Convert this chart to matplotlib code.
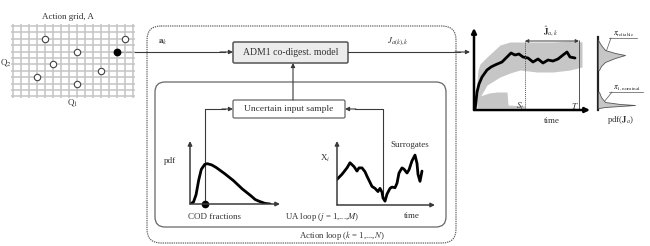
import numpy as np
import matplotlib
matplotlib.use("Agg")
import matplotlib.pyplot as plt
from matplotlib.patches import FancyBboxPatch

plt.rcParams['font.family'] = ['Liberation Serif', 'DejaVu Serif']
plt.rcParams['mathtext.fontset'] = 'stix'

# ---------------- data ----------------
# action grid (indices on Q1 / Q2 grid)
grid_q1_n = 16
grid_q2_n = 12
actions_q1 = [4, 8, 5, 3, 8, 11, 14]
actions_q2 = [2, 4, 6, 8, 9, 7, 2]
chosen_q1 = [13]
chosen_q2 = [4]

# COD fraction pdf
cod_x = [0.0, 0.04, 0.07, 0.10, 0.13, 0.17, 0.20, 0.25, 0.30, 0.40, 0.50, 0.60, 0.70, 0.75, 0.80, 0.86, 0.92]
cod_pdf = [0.0, 0.03, 0.15, 0.38, 0.55, 0.63, 0.64, 0.62, 0.58, 0.48, 0.37, 0.24, 0.13, 0.07, 0.04, 0.01, 0.0]
cod_sample = [0.17]

# surrogate series
sur_t = [0, 5, 10, 13, 17, 20, 22, 25, 28, 30, 35, 38, 41, 43, 45, 46, 48, 50, 53, 55, 58, 60, 62, 65, 67, 70, 72, 75, 78, 80, 81, 83, 85]
sur_x = [0.40, 0.48, 0.58, 0.66, 0.60, 0.53, 0.58, 0.58, 0.52, 0.45, 0.29, 0.26, 0.21, 0.26, 0.20, 0.11, 0.06, 0.17, 0.26, 0.28, 0.27, 0.34, 0.50, 0.58, 0.56, 0.50, 0.55, 0.69, 0.78, 0.65, 0.48, 0.37, 0.53]

# objective time series
ts_t = [1, 3, 5, 8, 13, 17, 21, 28, 33, 37, 41, 45, 49, 54, 59, 64, 69, 74, 79, 84, 89, 93, 96, 101]
ts_mean = [0, 18, 26, 33, 40, 43, 45, 48, 53, 57, 55, 56, 53, 52, 48, 51, 47, 50, 49, 51, 55, 58, 53, 52]
band_t = [1, 4, 6, 13, 26, 36, 46, 63, 79, 96, 108]
band_hi = [4, 40, 46, 53, 65, 68, 68, 68, 68, 69, 68]
band_lo = [0, 8, 13, 25, 33, 37, 40, 38, 38, 40, 43]
low_t = [3, 6, 15, 23, 33, 34, 51]
low_hi = [8, 14, 17, 18, 18, 5, 4]
low_lo = [2, 2, 2, 2, 2, 2, 2]
t_start = 51
t_end = 105

# pdf of objective
pdf_up_J = [70, 65, 60, 57, 55, 52, 48, 44, 40]
pdf_up_d = [0, 3, 7, 17, 27, 17, 7, 3, 1]
pdf_lo_J = [18, 13, 8, 6, 5, 4, 3, 2]
pdf_lo_d = [1, 3, 7, 22, 37, 22, 7, 1]

TXT = '#333333'
LN = '#3a3a3a'

W, H = 650, 246
fig = plt.figure(figsize=(6.5, 2.46), dpi=100)
ax = fig.add_axes([0, 0, 1, 1])
ax.set_xlim(0, W)
ax.set_ylim(H, 0)
ax.axis('off')


def inset(x0, y0, x1, y1):
    a = fig.add_axes([x0 / W, 1 - y1 / H, (x1 - x0) / W, (y1 - y0) / H])
    a.set_facecolor('none')
    for s in a.spines.values():
        s.set_visible(False)
    a.set_xticks([])
    a.set_yticks([])
    return a


def arrow(x0, y0, x1, y1, lw=0.8, ms=6, color=LN, axis=None, coords='data'):
    (axis or ax).annotate('', xy=(x1, y1), xytext=(x0, y0), xycoords=coords, textcoords=coords,
                          arrowprops=dict(arrowstyle='-|>', lw=lw, color=color,
                                          mutation_scale=ms, shrinkA=0, shrinkB=0))


# ---------------- action grid ----------------
ag = inset(10, 22, 136, 100)
ag.set_xlim(-0.375, 15.375)
ag.set_ylim(11.56, -0.625)
ag.vlines(range(grid_q1_n), -0.3, grid_q2_n - 0.7, color='#c4c4c4', lw=1.1)
ag.hlines(range(grid_q2_n), -0.3, grid_q1_n - 0.7, color='#c4c4c4', lw=1.1)
ag.plot(actions_q1, actions_q2, 'o', ms=4.6, mfc='white', mec='#444444', mew=0.8, ls='none')
ag.plot(chosen_q1, chosen_q2, 'o', ms=4.6, color='black', ls='none')
ax.text(68, 17, 'Action grid, A', ha='center', va='center', fontsize=6.5, color=TXT)
ax.text(6, 62, 'Q$_2$', ha='center', va='center', fontsize=6.5, color=TXT)
ax.text(73, 103, 'Q$_1$', ha='center', va='center', fontsize=6.5, color=TXT)

# ---------------- loop boxes ----------------
ax.add_patch(FancyBboxPatch((147, 26), 309, 217, boxstyle='round,pad=0,rounding_size=14',
                            fc='none', ec='#555555', lw=0.8, ls=(0, (1.2, 0.8))))
ax.add_patch(FancyBboxPatch((155, 82), 291, 145, boxstyle='round,pad=0,rounding_size=10',
                            fc='none', ec='#666666', lw=0.9))
ax.add_patch(FancyBboxPatch((233, 42), 115, 21, boxstyle='round,pad=0,rounding_size=1.5',
                            fc='#ececec', ec='#555555', lw=1.1))
ax.text(290.5, 52.5, 'ADM1 co-digest. model', ha='center', va='center', fontsize=7, color=TXT)
ax.add_patch(FancyBboxPatch((233, 100), 112, 18, boxstyle='round,pad=0,rounding_size=1.5',
                            fc='white', ec='#666666', lw=0.9))
ax.text(289, 109, 'Uncertain input sample', ha='center', va='center', fontsize=6.8, color=TXT)

# connections
ax.plot([118, 225], [52, 52], color=LN, lw=0.8)
arrow(220, 52, 233, 52)
ax.text(163, 42, r'$\mathbf{a}_k$', ha='center', va='center', fontsize=6.5, color=TXT)
ax.plot([348, 460], [52, 52], color=LN, lw=0.8)
arrow(455, 52, 470, 52)
ax.text(398, 42, r'$J_{a(k),k}$', ha='center', va='center', fontsize=6.5, color=TXT)
arrow(293, 100, 293, 63)
ax.plot([205, 205, 225], [204, 109, 109], color=LN, lw=0.8)
arrow(222, 109, 233, 109)
ax.plot([383, 383, 355], [197, 109, 109], color=LN, lw=0.8)
arrow(356, 109, 345, 109)

ax.text(342, 235, 'Action loop ($k$ = 1,...,$N$)', ha='center', va='center', fontsize=6.3, color=TXT)
ax.text(322, 217, 'UA loop ($j$ = 1,...,$M$)', ha='center', va='center', fontsize=6.3, color=TXT)

# ---------------- COD pdf ----------------
pa = inset(190, 141, 280, 204)
pa.set_xlim(0, 1.034)
pa.set_ylim(0, 1.0)
pa.plot(cod_x, cod_pdf, color='black', lw=2.0, solid_capstyle='round', solid_joinstyle='round')
pa.plot(cod_sample, [0], 'o', color='black', ms=4.5, clip_on=False)
arrow(0, 0, 0, 1.0, lw=1.1, axis=pa, coords='axes fraction')
arrow(0, 0, 1.0, 0, lw=1.1, axis=pa, coords='axes fraction')
ax.text(170, 161, 'pdf', ha='center', va='center', fontsize=6.5, color=TXT)
ax.text(215, 217, 'COD fractions', ha='center', va='center', fontsize=6.5, color=TXT)

# ---------------- surrogates ----------------
sa = inset(337, 141, 435, 205)
sa.set_xlim(0, 98)
sa.set_ylim(0, 1.0)
sa.plot(sur_t, sur_x, color='black', lw=2.0, solid_capstyle='round', solid_joinstyle='round')
arrow(0, 0, 0, 1.0, lw=1.1, axis=sa, coords='axes fraction')
arrow(0, 0, 1.0, 0, lw=1.1, axis=sa, coords='axes fraction')
ax.text(325, 158, r'X$_i$', ha='center', va='center', fontsize=6.5, color=TXT)
ax.text(410, 145, 'Surrogates', ha='center', va='center', fontsize=6.5, color=TXT)
ax.text(412, 216, 'time', ha='center', va='center', fontsize=6.5, color=TXT)

# ---------------- objective time series ----------------
ta = inset(474, 28, 590, 110)
ta.set_xlim(0, 116)
ta.set_ylim(0, 82)
ta.fill_between(band_t, band_lo, band_hi, color='#c6c6c6', lw=0)
ta.fill_between(low_t, low_lo, low_hi, color='#c6c6c6', lw=0)
ta.plot(ts_t, ts_mean, color='black', lw=2.0, solid_capstyle='round', solid_joinstyle='round')
ta.vlines([t_start], 0, 69, color='#555555', lw=0.7, linestyles=(0, (1, 1)))
ta.vlines([t_end], 0, 70, color='#555555', lw=0.7)
ta.annotate('', xy=(t_start, 69), xytext=(t_end, 69),
            arrowprops=dict(arrowstyle='<|-|>', lw=0.7, color=LN, mutation_scale=5, shrinkA=0, shrinkB=0))
arrow(0, 0, 0, 1.0, lw=1.8, ms=7, color='black', axis=ta, coords='axes fraction')
arrow(0, 0, 1.0, 0, lw=1.8, ms=7, color='black', axis=ta, coords='axes fraction')
ta.text(t_start - 5, 4, r'$S_t$', ha='center', va='center', fontsize=6.5, color=TXT)
ta.text(t_end - 4, 4, r'$T$', ha='center', va='center', fontsize=6.5, color=TXT)
ax.text(551, 32, r'$\hat{\mathbf{J}}_{a,k}$', ha='center', va='center', fontsize=6.5, color=TXT)
ax.text(552, 121, 'time', ha='center', va='center', fontsize=6.5, color=TXT)

# ---------------- pdf of objective ----------------
da = inset(598, 28, 648, 110)
da.set_xlim(0, 50)
da.set_ylim(0, 82)
da.fill_betweenx(pdf_up_J, 0, pdf_up_d, color='#c6c6c6', ec='#555555', lw=0.6)
da.fill_betweenx(pdf_lo_J, 0, pdf_lo_d, color='#c6c6c6', ec='#555555', lw=0.6)
ax.plot([598, 598], [37, 110], color='#222222', lw=1.6)
ax.plot([609, 637], [38, 38], color='#555555', lw=0.5)
ax.plot([611, 606], [38, 52], color='#555555', lw=0.5)
ax.text(613, 34, r'$\pi_{\mathrm{reliable}}$', ha='left', va='center', fontsize=5.5, color=TXT)
ax.plot([609, 643], [92, 92], color='#555555', lw=0.5)
ax.plot([612, 604], [92, 102], color='#555555', lw=0.5)
ax.text(613, 88, r'$\pi_{1,\mathrm{nominal}}$', ha='left', va='center', fontsize=5.5, color=TXT)
ax.text(621, 120, r'pdf($\mathbf{J}_a$)', ha='center', va='center', fontsize=6.3, color=TXT)

fig.savefig('out.png', dpi=100)
